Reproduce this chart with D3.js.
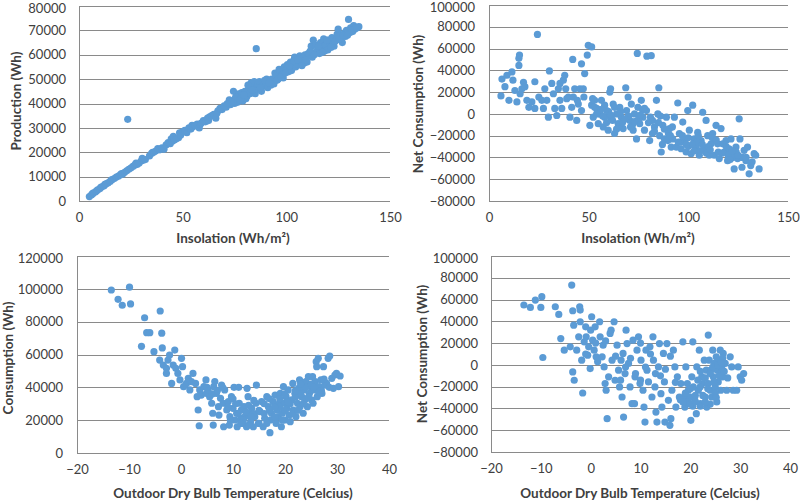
<!DOCTYPE html>
<html><head><meta charset="utf-8">
<script src="https://cdn.jsdelivr.net/npm/d3@7"></script>
<style>
body{margin:0;background:#fff;}
svg{display:block;font-family:Lato, "Open Sans", sans-serif;}
</style></head>
<body><svg id="c" width="800" height="501"></svg>
<script>
// ---------- DATA ----------
const insolationTicks = [0, 50, 100, 150];
const temperatureTicks = [-20, -10, 0, 10, 20, 30, 40];
const productionTicks = [0,10000,20000,30000,40000,50000,60000,70000,80000];
const netTicks = [-80000,-60000,-40000,-20000,0,20000,40000,60000,80000,100000];
const consumptionTicks = [0,20000,40000,60000,80000,100000,120000];

// Panel 1: insolation vs production
const productionPts = [
[5,1800],[6,2500],[6.5,3000],[7,3300],[8,3800],[8.5,4200],[9,4600],[10,5000],[10.5,5600],[11,5800],
[12,6200],[12.5,6800],[13,7000],[14,7400],[15,8000],[15.5,8600],[16,8800],[17,9200],[18,9800],[19,10200],
[20,10800],[20.5,11200],[21,11000],[22,11800],[23,12400],[23.5,33500],[24,13000],[25,13500],[26,14200],[27,14800],
[27.5,15500],[28,15000],[29,15600],[30,16400],[30.5,17500],[31,16800],[32,17000],[34,18500],[35,19500],[35.5,20000],
[36,20000],[37,20500],[38,21500],[39,21000],[40,21800],[41,21200],[42,23000],[43,24000],[44,23500],[44.5,25500],
[45,24500],[45.5,26500],[46,25000],[47,25500],[48,26000],[48.5,28000],[49,27000],[50,28500],[51,29000],[52,28000],
[53,30000],[54,29500],[54.5,31000],[55,30500],[56,31000],[57,31500],[58,30000],[58.5,31500],[59,32000],[60,33000],
[61,32500],[62,34000],[62.5,33000],[63,34500],[64,35000],[65,35500],[66,34000],[66.5,36000],[67,37000],[68,38000],
[69,37500],[70,39000],[71,38500],[72,40000],[72.5,41500],[73,39500],[74,41000],[74.5,45000],[75,40000],[76,42000],
[76.5,40500],[77,44000],[78,43000],[78.5,44500],[79,41000],[80,45000],[80.5,42000],[81,43000],[82,46000],[82.5,44000],
[83,48500],[84,47000],[84.5,49000],[85,44000],[85.5,62500],[86,46000],[86.5,48000],[87,49000],[88,45000],[88.5,47000],
[89,47500],[90,48000],[90.5,50000],[91,46500],[92,49500],[92.5,47500],[93,50000],[94,48000],[94.5,52500],[95,51500],
[96,50000],[96.5,54000],[97,53000],[98,52000],[98.5,50500],[99,55000],[100,54000],[100.5,56000],[101,53000],[102,57000],
[102.5,53500],[103,55500],[104,59000],[104.5,55000],[105,56000],[106,58000],[106.5,59500],[107,57500],[108,58500],[108.5,56500],
[109,60000],[110,57000],[110.5,60500],[111,59500],[112,63500],[112.5,59000],[113,66000],[114,61000],[114.5,64000],[115,62000],
[116,60500],[116.5,65000],[117,63000],[118,66500],[118.5,61500],[119,64000],[120,62000],[120.5,66000],[121,65000],[122,67000],
[122.5,64500],[123,63500],[124,66000],[124.5,68500],[125,70500],[126,68000],[126.5,66500],[127,65000],[128,69000],[128.5,67500],
[129,70000],[130,74500],[130.5,69000],[131,71000],[132,69500],[132.5,72000],[133,70500],[135,71500],
[81.5,47500],[83.5,45500],[87.5,46500],[89.5,49500],[91.5,48500],[95.5,49500],[97.5,51000],[99.5,52500],[101.5,55500],[103.5,57500],
[105.5,58000],[107.5,55500],[109.5,58000],[111.5,61500],[113.5,60000],[115.5,63500],[117.5,61000],[119.5,66000],[121.5,63000],[123.5,65500],
[125.5,66500],[127.5,68000],[129.5,68000],[131.5,70000],[134,71000],[75.5,42500],[77.5,41500],[79.5,43500],[73.5,40500],[71.5,40000]
];

// Panel 2: insolation vs net consumption
const netInsolationPts = [
[6,16500],[6.5,32000],[8,25000],[10,12500],[9,35500],[11.5,38500],[12,31000],[13,21500],[14,11000],[15,51000],
[15.3,54000],[15,44500],[15.6,18500],[16.5,23000],[17.3,29000],[18,25000],[19,12500],[20,6000],[21.5,11000],[23,5000],
[23,29500],[24.3,73000],[25,15500],[26.5,12500],[27.3,5000],[28,23000],[29,12500],[29.8,-3000],[30.3,39500],[31.5,28000],
[32.3,18500],[33,5000],[34,-1500],[34.8,23000],[35.6,12500],[36.5,5000],[37.3,31000],[38,35500],[38.5,23000],[35.6,28000],
[39,14000],[39.8,15500],[40.6,-3000],[41.5,6000],[42,50000],[42.3,15500],[43,23000],[44,-6000],[44.3,12500],[44.8,9000],
[45.6,23000],[46.4,46000],[46.4,3000],[47.3,23000],[47.6,15500],[48,37000],[49.3,54000],[49.8,63000],[51.5,61500],[50.6,-10500],
[51.5,8000],[52.3,-3000],[53,12500],[54,5000],[54.8,-9000],[55.6,0],[56.4,12500],[57.3,-12000],[58,-3000],[59,3000],
[59.8,-15000],[60.6,20000],[61,23000],[61.4,-4500],[62.3,9000],[63,-18000],[64,0],[64.8,-9000],[65.6,6000],[66.4,-3000],
[67.3,-13500],[68.6,24000],[69,3000],[69.8,15500],[70.6,-6000],[71.4,9000],[72.3,-15000],[73,0],[74,-23000],[74.4,55500],
[74.7,6000],[75.6,-9000],[76.4,12500],[77.2,-3000],[78,-15000],[79,3000],[79.2,53000],[80.6,-24500],[81.4,53500],[82,-6000],
[83,-12000],[84,12500],[84.7,0],[85.2,24000],[85.6,-20000],[86.4,-35000],[87.2,-10500],[88,-23000],[89,-3000],[89.7,-24500],
[90.6,-13500],[91.4,-30500],[92.2,-23000],[93,-3000],[94,-30500],[94.7,10000],[95.5,-18000],[96.4,-32000],[97.2,-7500],[98,-24500],
[98.9,-35000],[99.7,3000],[100.5,-15000],[101.4,-36500],[102.2,8000],[103,-23000],[103.9,-30500],[104.7,-17000],[105.5,-38000],[106.4,-24500],
[107.2,1500],[108,-32000],[108.9,-6000],[109.7,-20000],[110.5,-38000],[111.4,-27500],[112.2,-18000],[113,-38000],[113.9,-10500],[114.7,-27500],
[115.5,-41000],[116.4,-13500],[117.2,-27500],[118,-35000],[118.9,-24500],[119.7,-43000],[120.5,-32000],[121.4,-23000],[122.2,-40000],[123,-50500],
[123.9,-30500],[124.7,-41000],[125.5,-4500],[125.9,-23000],[126.9,-49000],[128,-33500],[128.9,-43000],[129.7,-30500],[130.5,-55000],[131.3,-47500],
[133,-36500],[135.5,-50500],[133.8,-38000],
[58,8000],[60,2000],[62,-6000],[65,-12000],[67,-8000],[70,-2000],[72,-10000],[75,-5000],[77,4000],[80,-8000],
[83,-16000],[86,-2000],[88,-14000],[92,-12000],[96,-26000],[100,-30000],[104,-26000],[106,-34000],[110,-30000],[112,-22000],
[115,-35000],[120,-38000],[124,-35000],[127,-40000],[100,-22000],[102,-28000],[97,-20000],[90,-18000],[85,-8000],[63,6000],
[57,-2000],[53,6000],[52,14000],
[56,4000],[59,-8000],[61,-1000],[64,-14000],[66,2000],[68,-5000],[71,-12000],[73,-7000],[76,-1000],[78,5000],
[81,-3000],[82,-18000],[87,-28000],[91,-20000],[95,-26000],[99,-28000],[103,-34000],[105,-20000],[107,-28000],[109,-36000],
[111,-33000],[114,-24000],[117,-36000],[119,-30000],[121,-42000],[122,-34000],[125,-38000],[129,-40000],[132,-44000],[54,0]
];

// Panel 3: temperature vs consumption
const consumptionPts = [
[-13.4,99300],[-12.1,93600],[-11.3,90000],[-9.9,101000],[-9.7,90800],[-7,82400],[-7.6,65000],[-6.6,73300],[-6,73300],[-5.2,61700],
[-4,86500],[-3.7,73000],[-3.6,64000],[-4.1,56600],[-3.4,53600],[-2.8,51600],[-2.5,56600],[-2.2,59700],[-2.8,48500],[-1.8,42400],
[-1.5,53600],[-1.2,62700],[-1,51600],[-0.6,48500],[-0.2,44500],[0.1,57700],[0.3,52600],[0.5,40400],[1.05,42400],[1.4,45500],
[1.7,38400],[2,43500],[2.3,48500],[2.8,42400],[3.1,34300],[3.3,26200],[3.5,16600],[3.6,38400],[3.9,35300],[4.4,40400],
[4.8,44500],[4.9,36300],[5.2,38400],[5.5,34300],[5.9,30300],[6.1,24200],[6.2,17000],[6.3,40400],[6.5,43500],[6.8,36300],
[7.2,28200],[7.3,23100],[7.6,33300],[7.8,41400],[8.1,30300],[8.2,16000],[8.4,38400],[8.8,26200],[9.1,31300],[9.3,17000],
[9.4,22100],[9.7,34300],[10,27200],[10.2,40000],[10.4,20100],[10.7,24200],[10.8,16000],[11.1,40000],[11.2,30300],[11.5,21100],
[11.6,26200],[11.8,18000],[12.1,28200],[12.3,22100],[12.6,16000],[12.7,39400],[12.9,34300],[13.1,24200],[13.4,19100],[13.6,27200],
[13.9,16000],[14.2,22100],[14.4,30300],[14.5,41400],[14.9,18000],[15.2,25200],[15.5,31300],[15.8,16000],[16.1,21100],[16.5,34300],
[16.8,28200],[17.1,12400],[17.2,20100],[17.4,24200],[17.7,31300],[18.1,35300],[18.3,18000],[18.5,26200],[18.7,22100],[18.9,30300],
[19.1,36300],[19.3,16000],[19.5,24200],[19.7,40400],[19.8,30300],[20,20100],[20.2,34300],[20.4,27200],[20.6,38400],[20.8,23100],
[21,19100],[21.3,32300],[21.5,42400],[21.6,26200],[21.9,36300],[22.1,22100],[22.4,30300],[22.6,39400],[22.8,44500],[22.9,28200],
[23.2,34300],[23.5,24200],[23.7,38400],[23.8,32300],[24,43500],[24.3,28200],[24.5,46500],[24.7,36300],[24.9,40400],[25.1,32300],
[25.3,46500],[25.4,30300],[25.6,38400],[25.8,43500],[26,55600],[26.1,52600],[26.2,34300],[26.4,57700],[26.6,40400],[26.9,44500],
[27.1,36300],[27.4,52600],[27.7,41400],[28,42400],[28.3,57700],[28.6,59100],[29,45500],[29.3,39400],[29.6,47500],[29.9,48500],
[30.6,46900],[30.3,40400],
[8,40000],[14,24000],[16,30000],[19,28000],[22,34000],[24,40000],[10,33000],[12,20000],[15,18000],[18,28000],
[21,30000],[23,36000],[25,42000],[27,38000],[11,24000],[13,29000],[17,26000],[20,36000],
[5,40000],[6,36000],[7,38000],[9,28000],[10.5,30000],[11.5,18000],[12.5,25000],[13.5,22000],[14,32000],[15,26000],
[16,24000],[17,33000],[18,22000],[19,33000],[20.5,31000],[21.5,24000],[22.5,26000],[23.5,30000],[24.5,34000],[25.5,40000],
[26.5,37000],[27.5,45000],[28.5,40000],[23,42000],[22,38000],[20,26000],[19.5,20000],[16.5,18000],[13,17000],[9.5,20000]
];

// Panel 4: temperature vs net consumption
const netTemperaturePts = [
[-13.4,55000],[-12.1,52800],[-11.1,59500],[-9.8,62600],[-10,52800],[-9.6,6800],[-7.1,53400],[-6.4,46300],[-6,24200],[-5.3,13500],
[-4.1,16600],[-3.8,73300],[-3.6,49700],[-3.4,36500],[-3.6,-6500],[-3.3,-14100],[-2.8,13500],[-2.4,25800],[-2.2,53400],[-2.1,50300],
[-2.1,39600],[-1.8,4300],[-1.6,-25800],[-1.3,21200],[-1,35000],[-0.9,25800],[-0.6,8900],[-0.4,16600],[-0.1,-3400],[0,31900],
[0.2,44200],[0.4,22700],[0.7,13500],[0.9,35000],[1.1,7400],[1.4,2800],[1.8,39600],[1.9,25800],[2.3,7400],[2.5,18100],
[2.7,-1900],[2.9,-17200],[3.1,-23300],[3.3,-49400],[3.6,-11000],[3.9,28900],[4.1,31900],[4.3,4300],[4.7,39600],[4.9,-14100],
[5.3,18100],[5.6,-4900],[5.8,-20200],[6.1,4300],[6.3,-29500],[6.5,10500],[6.6,-47900],[6.9,-8000],[7.1,31900],[7.3,19600],
[7.6,1300],[7.9,-20200],[8.3,-35600],[8.5,22700],[8.8,-35600],[8.9,-11000],[9.3,13500],[9.6,25800],[9.9,-17200],[10.1,4300],
[10.5,-23300],[10.7,-38700],[10.9,-52500],[11.1,13500],[11.3,-4900],[11.6,-15600],[11.9,16600],[12.3,-29500],[12.5,25800],[12.6,4300],
[12.9,-20200],[13.1,-43300],[13.3,-52500],[13.6,-1900],[13.8,19600],[14.1,-26400],[14.3,-38700],[14.6,10500],[14.8,-15600],[14.9,-52500],
[15.3,19600],[15.6,-32500],[15.9,-55500],[16.1,-49400],[16.3,-23300],[16.6,13500],[16.9,-1900],[17.1,-38700],[17.4,-11000],[17.8,-29500],
[18.1,-17200],[18.5,21200],[18.8,-29500],[18.9,-38700],[19.1,-1900],[19.4,-17200],[19.6,-23300],[20,-29500],[20.1,-50900],[20.3,-11000],
[20.5,21200],[20.6,-20200],[20.9,-32500],[21.2,-44800],[21.3,-1900],[21.6,-23300],[21.8,13500],[22,-35600],[22.3,-11000],[22.5,-17200],
[22.8,4300],[23,-29500],[23.2,-4900],[23.3,-38700],[23.6,27400],[23.6,-17200],[23.8,4300],[24,-23300],[24.1,-4900],[24.3,-29500],
[24.5,13500],[24.6,-11000],[24.8,1300],[25,-20200],[25.2,7400],[25.3,-34000],[25.4,-4900],[25.6,-15600],[25.8,4300],[26,13500],
[26.1,-23300],[26.3,-1900],[26.5,-11000],[26.6,10500],[27,1300],[27.3,-23300],[28,7400],[28.3,-1900],[28.6,-23300],[29.3,-23300],
[29.6,-1900],[30,-11000],[30.3,-14100],[30.7,-8000],
[21,-28000],[22,-20000],[23,-12000],[24,-36000],[25,-26000],[26,-8000],[22,-38000],[24.5,-2000],[25.5,0],[26.5,6000],
[20.5,-38000],[19.5,-34000],[18,-32000],[12,10000],[10,-14000],[8,6000],[14,-10000],
[19,-26000],[20,-36000],[21,-34000],[21.5,-14000],[22.5,-28000],[23.5,-22000],[24,-8000],[24.7,-16000],[25.2,-30000],[25.8,-10000],
[26.2,2000],[26.8,-6000],[27.5,-12000],[23,-34000],[22,-6000],[20,-22000],[18.5,-34000],[17,-16000],[16,8000],[13,-8000],
[11,-2000],[9,-8000],[7,-2000],[5,8000],[3,22000],[1,20000],[-1,10000],[15,-4000],[10,20000],[6,-14000]
];

// ---------- DRAW ----------
const svg = d3.select("#c");
const DOT = "#5B9BD5", GRID = "#8A8A8A", TXT = "#404040";

function panel(o) {
  const x = d3.scaleLinear().domain(o.xDomain).range([o.left, o.right]);
  const y = d3.scaleLinear().domain(o.yDomain).range([o.bottom, o.top]);
  const g = svg.append("g");
  g.selectAll("line.grid").data(o.yTicks).enter().append("line")
    .attr("x1", o.left).attr("x2", o.right)
    .attr("y1", d => Math.round(y(d)) + 0.5).attr("y2", d => Math.round(y(d)) + 0.5)
    .attr("stroke", GRID).attr("stroke-width", 1);
  g.append("line").attr("x1", Math.round(o.left) + 0.5).attr("x2", Math.round(o.left) + 0.5)
    .attr("y1", o.top).attr("y2", o.bottom).attr("stroke", GRID);
  const yAxis = d3.axisLeft(y).tickValues(o.yTicks).tickSize(0).tickPadding(o.yPad).tickFormat(d3.format("d"));
  const ya = g.append("g").attr("transform", `translate(${o.left},0)`).call(yAxis);
  ya.select(".domain").remove();
  ya.selectAll("text").attr("font-size", 13).attr("fill", TXT).attr("font-family", "Lato, sans-serif")
    .attr("dy", (d, i, n) => i === n.length - 1 ? "0.5em" : "0.32em");
  const xAxis = d3.axisBottom(x).tickValues(o.xTicks).tickSize(0).tickPadding(o.xPad).tickFormat(d3.format("d"));
  const xa = g.append("g").attr("transform", `translate(0,${o.bottom})`).call(xAxis);
  xa.select(".domain").remove();
  xa.selectAll("text").attr("font-size", 13).attr("fill", TXT).attr("font-family", "Lato, sans-serif");
  g.selectAll("circle").data(o.data).enter().append("circle")
    .attr("cx", d => x(d[0])).attr("cy", d => y(d[1])).attr("r", 3.6).attr("fill", DOT);
  g.append("text").attr("x", o.xTitleX).attr("y", o.xTitleY).attr("text-anchor", "middle")
    .attr("font-size", 13.5).attr("font-weight", "bold").attr("fill", TXT).text(o.xTitle);
  g.append("text").attr("transform", `translate(${o.yTitleX},${o.yTitleY}) rotate(-90)`)
    .attr("text-anchor", "middle").attr("dy", "0.35em")
    .attr("font-size", 13.5).attr("font-weight", "bold").attr("fill", TXT).text(o.yTitle);
}

panel({left:79, right:390, top:6, bottom:201, xDomain:[0,150], yDomain:[0,80000],
  xTicks:insolationTicks, yTicks:productionTicks, data:productionPts, yPad:13, xPad:12,
  xTitle:"Insolation (Wh/m²)", xTitleX:233, xTitleY:243, yTitle:"Production (Wh)", yTitleX:16, yTitleY:101});
panel({left:489, right:788, top:5, bottom:201, xDomain:[0,150], yDomain:[-80000,100000],
  xTicks:insolationTicks, yTicks:netTicks, data:netInsolationPts, yPad:14, xPad:12,
  xTitle:"Insolation (Wh/m²)", xTitleX:638, xTitleY:243, yTitle:"Net Consumption (Wh)", yTitleX:418, yTitleY:104});
panel({left:77, right:389, top:256, bottom:453, xDomain:[-20,40], yDomain:[0,120000],
  xTicks:temperatureTicks, yTicks:consumptionTicks, data:consumptionPts, yPad:14, xPad:12,
  xTitle:"Outdoor Dry Bulb Temperature (Celcius)", xTitleX:233, xTitleY:498, yTitle:"Consumption (Wh)", yTitleX:8, yTitleY:358});
panel({left:491, right:790, top:256, bottom:452, xDomain:[-20,40], yDomain:[-80000,100000],
  xTicks:temperatureTicks, yTicks:netTicks, data:netTemperaturePts, yPad:13, xPad:12,
  xTitle:"Outdoor Dry Bulb Temperature (Celcius)", xTitleX:640, xTitleY:498, yTitle:"Net Consumption (Wh)", yTitleX:422, yTitleY:354});
</script></body></html>
